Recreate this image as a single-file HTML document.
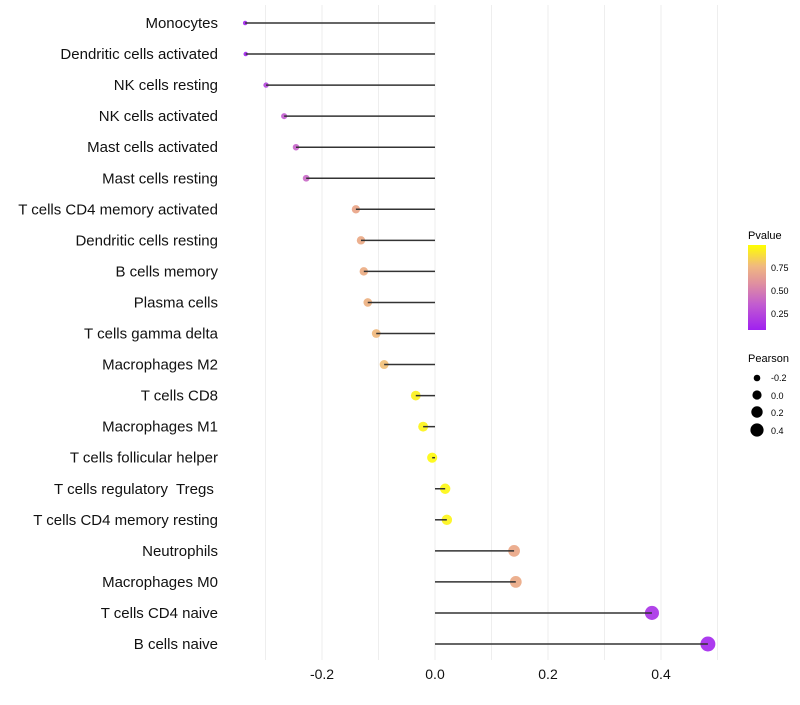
<!DOCTYPE html>
<html><head><meta charset="utf-8"><style>
body{margin:0;background:#fff;font-family:"Liberation Sans",sans-serif}
text{white-space:pre}
</style></head><body>
<svg id="chart" width="800" height="700" xmlns="http://www.w3.org/2000/svg" font-family="Liberation Sans, sans-serif">
<defs><linearGradient id="pg" x1="0" y1="1" x2="0" y2="0">
<stop offset="0" stop-color="#a020f0"/><stop offset="0.3" stop-color="#c25cd0"/><stop offset="0.55" stop-color="#e0909f"/><stop offset="0.75" stop-color="#f0b880"/><stop offset="1" stop-color="#ffff00"/></linearGradient></defs>
<g id="grid"></g><g id="points"></g><g id="stems"></g><g id="labels"></g>
<g>
<text x="748" y="239" font-size="11">Pvalue</text>
<rect x="748" y="245" width="18" height="85" fill="url(#pg)"/>
<text x="771" y="271" font-size="9">0.75</text>
<text x="771" y="294" font-size="9">0.50</text>
<text x="771" y="317" font-size="9">0.25</text>
</g>
<g>
<text x="748" y="362" font-size="11">Pearson</text>
<circle cx="757" cy="378" r="3.3"/><text x="771" y="381" font-size="9">-0.2</text>
<circle cx="757" cy="395" r="4.6"/><text x="771" y="399" font-size="9">0.0</text>
<circle cx="757" cy="412" r="5.7"/><text x="771" y="416" font-size="9">0.2</text>
<circle cx="757" cy="430" r="6.6"/><text x="771" y="434" font-size="9">0.4</text>
</g>
</svg>
<script>
const categories=["Monocytes","Dendritic cells activated","NK cells resting","NK cells activated","Mast cells activated","Mast cells resting","T cells CD4 memory activated","Dendritic cells resting","B cells memory","Plasma cells","T cells gamma delta","Macrophages M2","T cells CD8","Macrophages M1","T cells follicular helper","T cells regulatory  Tregs ","T cells CD4 memory resting","Neutrophils","Macrophages M0","T cells CD4 naive","B cells naive"];
const pearson=[-0.336,-0.335,-0.299,-0.267,-0.246,-0.228,-0.140,-0.131,-0.126,-0.119,-0.104,-0.090,-0.034,-0.021,-0.005,0.018,0.021,0.140,0.143,0.384,0.483];
const pvalue=[0.02,0.02,0.18,0.3,0.33,0.35,0.62,0.64,0.66,0.68,0.72,0.76,0.95,0.96,0.98,0.97,0.96,0.63,0.64,0.08,0.03];
const xTicks=[-0.2,0.0,0.2,0.4];
const xGrid=[-0.3,-0.2,-0.1,0,0.1,0.2,0.3,0.4,0.5];
const NS="http://www.w3.org/2000/svg";
const x=v=>435+v*565;
const y=i=>23+i*31.05;
const r=v=>Math.sqrt(Math.max(1,5+(v+0.336)*62));
function col(p){const st=[[0,[160,32,240]],[0.3,[194,92,208]],[0.5,[220,140,170]],[0.62,[233,163,133]],[0.78,[242,195,115]],[1,[255,255,0]]];
for(let k=1;k<st.length;k++){if(p<=st[k][0]){const a=st[k-1],b=st[k],t=(p-a[0])/(b[0]-a[0]);return 'rgb('+a[1].map((c,j)=>Math.round(c+(b[1][j]-c)*t)).join(',')+')';}}return 'rgb(255,255,0)';}
function mk(t,at,par){const e=document.createElementNS(NS,t);for(const k in at)e.setAttribute(k,at[k]);document.getElementById(par).appendChild(e);return e;}
xGrid.forEach(v=>{const l=mk('line',{x1:x(v),x2:x(v),y1:5,y2:660,stroke:'#eeeeee','stroke-width':1},'grid');

});
xTicks.forEach(v=>{const t=mk('text',{x:x(v),y:679,'font-size':14,'text-anchor':'middle',fill:'#111'},'labels');t.textContent=v.toFixed(1);

});
categories.forEach((c,i)=>{
const t=mk('text',{x:218,y:y(i)+5,'font-size':15,'text-anchor':'end',fill:'#111'},'labels');t.textContent=c;


const d=mk('circle',{cx:x(pearson[i]),cy:y(i),r:r(pearson[i]),fill:col(pvalue[i]),'fill-opacity':0.9},'points');


const l=mk('line',{x1:x(0),x2:x(pearson[i]),y1:y(i),y2:y(i),stroke:'#333','stroke-width':1.5},'stems');


});
</script>
</body></html>
